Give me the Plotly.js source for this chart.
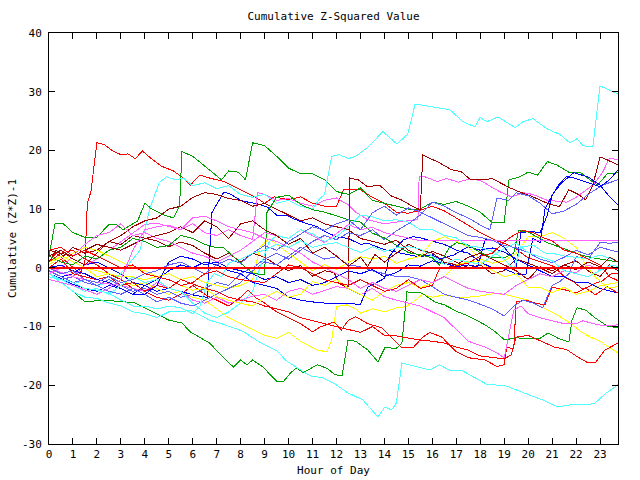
<!DOCTYPE html>
<html>
<head>
<meta charset="utf-8">
<script src="https://cdn.plot.ly/plotly-3.0.1.min.js"></script>
<style>html,body{margin:0;padding:0;background:#fff}#chart{width:640px;height:480px}
.scatterlayer path.js-line{shape-rendering:crispEdges}</style>
</head>
<body>
<div id="chart"></div>
<script>
// Each series: [hour, cumulative value] points
const hourTicks = [0,1,2,3,4,5,6,7,8,9,10,11,12,13,14,15,16,17,18,19,20,21,22,23];
const valueTicks = [-30,-20,-10,0,10,20,30,40];

const R1 = [[0,1],[0.3,2.5],[0.6,1.5],[1,0],[1.3,-1],[1.5,1],[1.6,11],[1.75,13],[2,21.3],[2.3,21],[2.7,19.8],[3,19.3],[3.3,19.4],[3.6,18.6],[3.9,19.9],[4.3,18.5],[4.7,17.3],[5.2,16.5],[5.6,15.3],[5.9,14.1],[6.3,15.8],[6.7,15.3],[7.3,14.7],[8,13.3],[8.6,12.1],[9,11],[9.4,12.1],[10,11.6],[10.5,12.1],[11,11],[11.5,10.5],[12,10.5],[12.3,13.3],[13,13.3],[13.5,12],[14,11],[14.5,9.5],[15,9.3],[15.5,9.8],[16,10.5],[16.5,9.7],[17,8.5],[17.5,7.2],[18,6],[18.7,4.6],[19,4.2],[19.5,3.2],[20,1.7],[20.6,0.9],[21.1,0.2],[21.5,-1.5],[21.9,-2.4],[22.3,-3.7],[22.7,-2.8],[23.1,-2.2],[23.5,-0.9],[23.75,-0.9]];
const G1 = [[0,2],[0.25,7.5],[0.6,7.5],[1,6],[1.5,5.2],[2,5.2],[2.5,7.4],[2.8,7.4],[3.1,6.5],[3.7,8],[4,11],[4.3,10],[4.8,9],[5.2,8.5],[5.45,10.5],[5.55,19.8],[6,19],[6.5,17.3],[7.2,15],[7.5,16.5],[7.9,16.3],[8.2,15],[8.5,21.3],[9,20.8],[9.5,19],[10,17],[10.5,16],[11,16],[11.5,15],[12,13],[12.5,12.5],[13,13.6],[13.5,11.5],[14,11],[14.5,10.5],[15,10],[15.5,10],[16,11.2],[16.5,10.8],[17,11.3],[17.5,10.5],[18,9.5],[18.5,7.7],[19,7.8],[19.2,15],[19.6,15.4],[20,16.3],[20.4,15.8],[20.8,18.1],[21.2,17.5],[21.7,16.3],[22.2,16.2],[22.6,14.9],[22.9,14.1],[23.3,16],[23.75,16.2]];
const C1 = [[0,-1],[0.5,-2],[1,-2.8],[1.5,-2],[2,-3],[2.5,-2.5],[3,-1],[3.5,1.5],[3.8,3],[4.2,10],[4.6,14.5],[4.9,15.5],[5.3,15],[5.6,15.3],[6,14],[6.5,14.5],[7,13.5],[7.5,14],[8,12.5],[8.5,12],[9,12.5],[9.5,11],[10,11.5],[10.5,10.5],[11,10],[11.3,11.8],[11.5,12.5],[11.8,19],[12.1,19.3],[12.5,18.6],[12.8,19],[13.27,20.4],[13.94,23.2],[14.52,21.1],[14.98,22.8],[15.28,27.9],[16.03,27.4],[16.74,26.9],[17.28,24.9],[17.78,24.0],[17.99,25.6],[18.28,24.9],[18.74,25.7],[19.45,23.9],[19.78,24.9],[20.2,25.4],[20.78,23.7],[21.33,22.7],[21.74,21.3],[22.04,22.0],[22.29,20.8],[22.7,20.6],[23.0,31.0],[23.75,29.6]];
const D1 = [[0,1],[0.3,3],[0.6,2],[1,3.5],[1.5,2.5],[2,3],[2.5,4.5],[3,4],[3.5,5.5],[4,5],[4.5,4.6],[5,3.6],[5.5,4.4],[6,3.8],[6.5,2.5],[7,1.5],[7.5,2.5],[8,1],[8.5,2.5],[9,1.8],[9.5,0.5],[10,-0.5],[10.5,0.4],[11,-1.4],[11.5,-0.5],[11.9,-0.8],[12.1,-2.6],[12.35,-3.2],[12.5,-3.2],[12.55,15.3],[12.9,15],[13.3,13.8],[13.8,14.1],[14.3,12.2],[14.7,11.6],[15.2,10.4],[15.5,9.9],[15.6,19.2],[15.9,18.7],[16.3,17.9],[16.8,16.7],[17.2,16.4],[17.6,15],[18.1,15],[18.5,15.2],[18.8,14.5],[19.2,13.7],[19.6,13],[20.2,12.1],[20.8,11],[21.3,10.4],[21.7,13.3],[22.1,12.5],[22.4,11.6],[22.7,14.1],[23.0,18.9],[23.3,18.4],[23.75,17.5]];
const M1 = [[0,-1],[0.5,-2],[1,-1.5],[1.5,0.5],[2,1.5],[2.5,3],[3,4.5],[3.5,6],[4,7.4],[4.5,7.6],[5,7],[5.5,6.5],[6,7.5],[6.5,6],[7,5.5],[7.5,6.5],[8,5.5],[8.5,4.8],[8.7,12.8],[9,12.5],[9.5,11.5],[10,11.8],[10.5,11],[11,10.5],[11.5,11.5],[12,11.9],[12.5,10.7],[12.8,9.5],[13.3,8.2],[14,7.5],[14.7,7.9],[15.2,8.2],[15.4,8.2],[15.45,15.5],[15.7,15.5],[16.2,14.7],[16.6,15.2],[17.1,14.6],[17.5,15.1],[18,14.9],[18.8,13],[19.3,12.1],[19.8,12.8],[20.2,12.5],[20.8,11.5],[21.6,11.2],[22,12],[22.7,14.1],[23.1,16.2],[23.4,18.7],[23.75,18.4]];
const B1 = [[0,-0.5],[0.5,-1.5],[1,-1],[1.5,0.5],[2,1],[2.5,0],[3,-1],[3.5,-2.5],[4,-3],[4.5,-4],[5,-3.5],[5.5,-4],[6,-4.6],[6.4,-4.9],[6.6,-5],[6.8,9.4],[7.1,11.6],[7.3,12.9],[7.6,12.5],[8,11.5],[8.3,11.2],[8.6,11],[9.1,10.4],[9.5,9],[9.9,9],[10.3,8.2],[10.8,7.5],[11.2,7],[11.6,6],[12,5.3],[12.5,5],[13,4],[13.3,4.2],[13.7,3.6],[14,3.1],[14.7,2.5],[15.4,1.9],[16,2.2],[16.3,1.5],[16.9,2.2],[17.5,3.6],[18,3],[18.5,3.4],[19,2.7],[19.5,1.5],[20,0.5],[20.5,-0.5],[21,-1.5],[21.5,-1.5],[22,-2.5],[22.5,-2.5],[23,-3.5],[23.75,-4.3]];
const Y1 = [[0,1],[0.5,2],[1,1],[1.5,0],[2,-1.5],[2.5,-1],[3,-2],[3.5,-3],[4,-2.5],[4.5,-3.5],[5,-4.5],[5.5,-4],[6,-5],[6.5,-5.5],[7,-7],[7.5,-8.5],[8,-9.5],[8.5,-10.5],[9,-11.5],[9.5,-12],[10,-11],[10.5,-12.5],[11,-13.5],[11.2,-14],[11.6,-14.3],[11.8,-12.3],[12,-6.6],[12.4,-6.3],[12.8,-7],[13,-7.7],[13.5,-7],[14,-7.5],[14.5,-6.8],[14.9,-6.6],[15.2,-5.8],[15.6,-4.5],[16,-5],[16.5,-4.6],[17,-5],[17.5,-5],[18,-4.8],[18.5,-4.4],[19,-4.5],[19.5,-5],[20,-5.5],[20.5,-6.5],[21,-7.5],[21.4,-8.5],[21.8,-9.5],[22.2,-10.9],[22.6,-11.8],[23,-12.5],[23.4,-13.5],[23.75,-14.5]];
const S1 = [[0,-1],[0.5,-2],[1,-1.5],[1.5,-2.5],[2,-3],[2.5,-2],[3,-3],[3.5,-4],[4,-3.5],[4.5,-4.5],[5,-4],[5.5,-5],[6,-4.5],[6.5,-3.5],[7,-2.5],[7.5,-3],[8,-1],[8.5,0],[9,1.5],[9.5,2.5],[10,1.5],[10.5,3],[11,4.5],[11.5,5.5],[12,4.8],[12.5,6],[13,5.5],[13.5,6.5],[14,4.8],[14.5,6.3],[15,7.5],[15.5,9],[16,11.2],[16.5,10.5],[17,9.4],[17.5,8.5],[18,7.3],[18.4,6.5],[18.7,11.9],[19.2,11.5],[19.5,12.8],[20,12.3],[20.5,11],[21,9.2],[21.5,9.7],[22,10.8],[22.5,12.5],[23.1,14.1],[23.75,15]];
const R2 = [[0,1],[0.5,2.5],[1,3],[1.5,1.5],[2,0.5],[2.5,-1],[3,-2],[3.5,-3.5],[4,-4],[4.5,-5],[5,-5.5],[5.5,-4.5],[6,-3],[6.5,-4.5],[7,-5.5],[7.5,-6.5],[8,-5],[8.3,-3.8],[8.6,-5],[9,-6],[9.5,-7.5],[10,-8.5],[10.5,-9.5],[11,-10.9],[11.3,-10.1],[11.9,-9.2],[12.2,-10.6],[12.5,-8.9],[12.8,-8.3],[13.3,-9.5],[13.9,-10.2],[14.7,-13.5],[15.2,-13.6],[15.6,-11.8],[15.9,-11],[16.4,-11.8],[17,-14.3],[17.5,-15.3],[18.2,-15.7],[18.7,-16.8],[19,-16.5],[19.1,-13.5],[19.4,-13.8],[19.5,-5.8],[19.9,-5.5],[20.3,-6],[20.7,-6.3],[21,-3.3],[21.5,-3.7],[22,-4.3],[22.4,-3.4],[22.8,-4.6],[23.3,-3.2],[23.75,-4.3]];
const G2 = [[0,-1],[0.5,-2.5],[1,-4],[1.5,-5.8],[2,-5.6],[2.5,-5.6],[3,-5.7],[3.6,-6],[4,-6.8],[4.55,-8],[5,-8.9],[5.55,-9.4],[5.9,-10.9],[6.7,-12.8],[7.26,-15.2],[7.7,-16.9],[8,-15.7],[8.26,-16.5],[8.5,-15.7],[8.93,-16.9],[9.5,-19.3],[9.8,-19.3],[10.1,-17.8],[10.35,-17],[10.6,-17.9],[11.2,-16.5],[11.6,-17.1],[11.94,-18.2],[12.23,-18.4],[12.48,-12.3],[12.8,-12.5],[13.31,-14],[13.73,-16],[14.02,-13.6],[14.5,-13.7],[14.73,-12.8],[14.94,-4.1],[15.57,-4.3],[16.1,-5.8],[16.5,-6.3],[17.07,-7.5],[17.5,-8.2],[18.2,-9.7],[18.6,-10.8],[19.03,-12.3],[19.45,-11.9],[20.1,-12.1],[20.5,-12],[20.83,-11.1],[21.3,-12.1],[21.7,-12.6],[21.83,-8.9],[22.04,-6.8],[22.4,-7.2],[22.79,-8.5],[23.3,-9.9],[23.75,-10.2]];
const C2 = [[0,-1],[0.5,-2.5],[1,-4],[1.5,-5],[2,-5.2],[2.5,-6],[3,-6.5],[3.5,-7.5],[4,-7.8],[4.5,-8.5],[5,-7.5],[5.5,-7.5],[5.9,-7.2],[6.3,-8],[6.7,-8.9],[7.2,-9.5],[7.7,-10.2],[8.1,-10.8],[8.5,-11.9],[8.9,-12.9],[9.5,-14.1],[9.9,-15.8],[10.35,-17],[10.9,-18.4],[11.4,-18.7],[11.94,-19.8],[12.48,-21.3],[13.1,-22.5],[13.73,-25.4],[14.02,-23.7],[14.3,-24.2],[14.5,-23],[14.73,-16.2],[15.4,-16.9],[15.9,-17.4],[16.3,-16.5],[16.7,-17.4],[17.2,-17.4],[17.78,-18.7],[18.3,-19.9],[19.0,-20],[19.87,-21.3],[20.6,-22.5],[21.24,-23.7],[21.9,-23.2],[22.5,-23.3],[22.8,-23],[23.2,-21.5],[23.75,-19.9]];
const D2 = [[0,2],[0.5,3],[1,1.5],[1.5,0.5],[2,2.5],[2.5,4.5],[3,5.5],[3.5,7],[4,8],[4.5,8.5],[5,10],[5.5,10.5],[6,12],[6.5,12.8],[7,12.5],[7.5,11.8],[8,11.5],[8.5,10.5],[9,11],[9.5,10],[10,9],[10.5,8],[11,8.5],[11.5,7.5],[12,7],[12.5,6.5],[13,5],[13.5,4.5],[14,4],[14.5,4.7],[15,3],[15.5,2],[16,2.8],[16.5,2],[17,1],[17.5,0],[18,0.5],[18.5,-1],[19,-0.5],[19.5,1.5],[20,0.8],[20.5,0],[21,-1],[21.5,0.5],[22,1.2],[22.5,-0.5],[23,-1.5],[23.4,0.5],[23.75,-0.5]];
const M2 = [[0,0],[1,-1.5],[2,-2.5],[3,-3],[4,-4],[4.5,-2.5],[5,-3.5],[5.5,-4],[6,-5.5],[6.5,-6],[7,-5],[7.5,-6],[8,-5.5],[8.5,-4.8],[9,-4.5],[9.5,-5.5],[10,-4],[10.5,-3.5],[11,-4.5],[11.5,-3.8],[12,-3.2],[12.5,-3.5],[13,-4.6],[13.5,-3.5],[14,-4.9],[14.5,-5.5],[15,-6],[15.5,-6.5],[16,-7.5],[16.5,-8.5],[17,-10.5],[17.5,-12.5],[18.2,-13.5],[18.7,-14.5],[19,-15.3],[19.2,-11],[19.4,-7.2],[19.7,-6.5],[20,-7.8],[20.5,-8.5],[21,-9],[21.5,-9.5],[22,-9.5],[22.3,-9],[22.7,-9.5],[23.2,-9.9],[23.75,-9.7]];
const C3 = [[0,-1.5],[0.5,-2],[1,-3],[1.5,-4],[2,-3.5],[2.5,-4.5],[3,-3],[3.5,-1.5],[4,-2.5],[4.5,-2],[5,-3.5],[5.5,-4],[6,-6],[6.5,-7.7],[7,-8.5],[7.5,-7.5],[8,-6],[8.5,-4],[8.8,0],[9.2,4.5],[9.5,5.5],[10,5],[10.5,6.5],[11,5.8],[11.5,4.5],[12,5.3],[12.5,7],[13,9],[13.5,8.7],[14,8],[14.5,8.2],[15,7.8],[15.5,6.5],[16,6.5],[16.5,5.5],[17,5.1],[17.5,3.7],[18,3.5],[18.5,2.8],[19,1.5],[19.4,-0.3],[19.7,3.5],[20.2,3.9],[20.7,2.5],[21,2.5],[21.5,2],[22,1.8],[22.5,1.5],[23,2.2],[23.5,1.5],[23.75,1]];
const Y2 = [[0,2],[0.5,1],[1,2.5],[1.5,3.5],[2,3],[2.5,2],[3,1],[3.5,0],[4,-0.5],[4.5,-1.5],[5,-1],[5.5,-2],[6,-1.5],[6.5,-2.5],[7,-3],[7.5,-3.5],[8,-3],[8.5,-2],[8.8,3.5],[9.2,5],[9.5,4],[10,2.5],[10.5,1],[11,-0.5],[11.5,0.5],[12,-0.3],[12.5,1],[13,1.9],[13.5,1.5],[14,2],[14.5,0.8],[15,1.5],[15.5,2],[16,4.5],[16.5,5.3],[17,4.5],[17.5,3.5],[18,1.5],[18.5,0.8],[19,1.2],[19.5,2.5],[20,5.3],[20.5,5.3],[21,6],[21.5,5],[22,3.5],[22.4,0.5],[22.8,-1.5],[23.3,-3.4],[23.75,-3.2]];
const B2 = [[0,-1],[0.5,-1.8],[1,-2.8],[1.5,-3.5],[2,-4],[2.5,-3],[3,-3.5],[3.5,-4.5],[4,-3],[4.5,-2],[5,-0.5],[5.5,0.5],[6,0],[6.5,1],[7,0.5],[7.5,-0.5],[8,-1],[8.5,-2.5],[9,-3],[9.5,-3.5],[10,-5],[10.5,-5.5],[11,-5.8],[11.5,-6],[12,-6],[12.5,-6.1],[13,-6.2],[13.3,-3.3],[13.7,-2.5],[14,-1.8],[14.2,1.9],[14.5,3.5],[14.8,4.8],[15.2,5.3],[15.5,5.1],[16,4.5],[16.5,4],[17,3],[17.5,2.5],[18,1],[18.5,0],[19,-0.2],[19.5,-1],[19.9,-1.2],[20.2,5],[20.5,4.3],[20.7,10],[21,12.3],[21.3,14.3],[21.6,15.6],[22,15.2],[22.5,14.5],[23,13.8],[23.4,15],[23.75,16.7]];
const S2 = [[0,-0.5],[0.5,-1.5],[1,-2.5],[1.5,-2],[2,-3],[2.5,-4],[3,-4.5],[3.5,-3.5],[4,-4.5],[4.5,-5.8],[5,-5],[5.5,-6],[6,-6.5],[6.5,-5.5],[7,-4.5],[7.5,-3.5],[8,-2.5],[8.5,-0.5],[9,1],[9.5,0.5],[10,2],[10.5,3.5],[11,2.5],[11.5,1.5],[12,1.9],[12.5,0.5],[13,0.2],[13.5,-0.5],[14,-1],[14.5,-1.5],[15,-1.5],[15.5,-2],[16,-3.2],[16.5,-4.5],[17,-5],[17.5,-5.5],[18,-6.2],[18.5,-7],[19,-8.2],[19.4,-6.5],[19.8,-5.5],[20.2,-6],[20.6,-6.8],[21,-3],[21.3,-2.4],[21.7,-1],[22,1.9],[22.5,1.5],[23,4.3],[23.4,4.2],[23.75,4.3]];
const R3 = [[0,0],[0.5,1.5],[1,-1],[1.5,-1.5],[2,-2],[2.5,-1.5],[3,-3],[3.5,-2.5],[4,-4],[4.5,-3],[5,-3.5],[5.5,-2],[6,-2.8],[6.5,-3.5],[7,-4],[7.5,-5],[8,-5.5],[8.5,-5.8],[9,-6.5],[9.5,-7],[10,-7.5],[10.5,-8.5],[11,-9],[11.5,-9.5],[12,-10],[12.5,-10.5],[13,-11],[13.5,-10],[14,-11.5],[14.5,-11.6],[15,-12],[15.5,-12.3],[16,-12.5],[16.5,-12.8],[17,-13.5],[17.5,-14],[18,-15],[18.5,-15.2],[19,-15.5],[19.3,-14.8],[19.5,-11.8],[20,-11.5],[20.5,-12.4],[21.1,-13.5],[21.6,-13.9],[22,-15],[22.5,-16.2],[22.8,-16.2],[23.2,-14],[23.75,-12.8]];
const G3 = [[0,2],[0.5,1],[1,0.5],[1.5,2],[2,1.5],[2.5,3],[3,3.5],[3.5,5],[4,4.5],[4.5,3.5],[5,3.8],[5.5,5.5],[6,5],[6.5,4],[7,3.4],[7.3,3.4],[8,0.8],[8.5,-0.9],[9,-1.2],[9.1,9.5],[9.5,12],[10,12.4],[10.5,10.8],[11,9.9],[11.5,9.5],[12,8.8],[12.5,8.2],[13,7.8],[13.5,5.9],[14,5.1],[14.5,3.9],[15,2.6],[15.5,2.2],[16,1.7],[16.3,0.5],[16.7,3.4],[17,4.3],[17.5,3.9],[18,2.6],[18.5,1.7],[19,1.7],[19.4,2.5],[19.6,6.4],[20,6.1],[20.8,4.3],[21.5,3.2],[22.2,2.2],[22.7,1.7],[23.75,1.0]];
const M3 = [[0,-1],[0.5,0],[1,2],[1.5,4],[2,5.5],[2.5,6],[3,7.5],[3.5,5.5],[4,6],[4.5,5],[5,4.5],[5.5,3.5],[6,2.5],[6.5,2],[7,1],[7.5,2],[8,3],[8.5,4.5],[9,6],[9.5,5.5],[10,5],[10.5,6.5],[11,5.5],[11.5,4.3],[12,5.8],[12.5,7.4],[13,6.5],[13.5,6.9],[14,6],[14.5,5.5],[15,5],[15.4,4.7],[23.75,4.7]];
const C4 = [[0,-1],[0.5,-2],[1,-2.5],[1.5,-3.5],[2,-3.8],[2.5,-4.3],[3,-5.5],[3.5,-6.5],[4,-6.5],[4.5,-7],[5,-6.5],[5.5,-6.8],[6,-7.8],[6.3,-6.5],[6.6,-2.5],[6.9,-1],[7.2,-1.5],[7.5,0.8],[8,1.5],[8.5,2.5],[9,3],[9.5,4],[10,3.5],[10.5,4.6],[11,3.5],[11.5,4],[12,4.3],[12.5,3.5],[13,2.6],[13.5,3.6],[14,2.8],[14.5,3.4],[15,3.6],[15.5,3.2],[16,2],[16.5,0.6],[17,1.5],[17.5,1],[18,0.6],[18.5,2],[19,3.3],[19.5,4.2],[20,2.6],[20.5,1.9],[21,1.2],[21.5,-0.5],[22,-1],[22.5,-1.5],[23,-0.4],[23.5,0.5],[23.75,0.2]];
const Y3 = [[0,0.5],[0.5,2],[1,1],[1.5,0],[2,-0.5],[2.5,-1],[3,-1.5],[3.5,-1.5],[4,-2],[4.5,-1.5],[5,-2],[5.5,-3],[6,-3.8],[6.5,-3.5],[7,-4.9],[7.5,-5.5],[8,-6],[8.5,-6.5],[9,-5],[9.5,-4],[10,-5],[10.5,-4.5],[11,-2.3],[11.5,-3],[12,-2],[12.5,-3.5],[13,-4.5],[13.5,-5.5],[14,-4],[14.5,-3],[15,-2.5],[15.5,-3.4],[16,-2.5],[16.5,-1.5],[17,0.5],[17.5,1],[18,1],[18.5,-0.5],[19,-1.5],[19.5,-1],[20,-3.3],[20.5,-3.3],[21,-4.3],[21.5,-3.3],[22,-4.5],[22.5,-4],[23,-3],[23.75,-2.5]];
const B3 = [[0,0],[0.5,0.5],[1,-0.5],[1.5,-1],[2,-2],[2.5,-2.5],[3,-3.5],[3.5,-4.5],[4,-4.5],[4.5,-3],[5,1],[5.5,2],[6,1.5],[6.5,0.5],[7,1],[7.5,0],[8,-0.5],[8.5,-1],[9,-2],[9.5,-1.5],[10,-2.5],[10.5,-2],[11,-3],[11.5,-2.5],[12,-1.5],[12.5,-0.5],[13,-1],[13.5,-0.3],[14,-1.5],[14.5,-0.8],[15,0.5],[15.5,0.3],[16,1.2],[16.5,0.8],[17,0.2],[17.5,0.5],[17.9,0.2],[18.2,4.8],[18.6,4.6],[19,3.5],[19.4,1.5],[19.5,0.2],[19.7,6],[20.1,6.2],[20.5,6],[20.8,9],[21,12.4],[21.4,14.5],[21.9,16.2],[22.5,15.5],[23,14.1],[23.4,12.1],[23.75,10.7]];
const S3 = [[0,0],[0.5,-1],[1,-0.5],[1.5,-2],[2,-2.5],[2.5,-1.5],[3,-2.5],[3.5,-2],[4,-1],[4.5,-0.5],[5,0.5],[5.5,1],[6,0],[6.5,-1],[7,0.5],[7.5,1.5],[8,0.8],[8.5,2.5],[9,3.8],[9.5,3],[10,4.5],[10.5,5.8],[11,7],[11.5,6.4],[12,7.5],[12.5,8.2],[13,6.5],[13.5,9.4],[14,10.5],[14.5,9],[15,10.2],[15.5,9.5],[16,8.5],[16.5,7.4],[17,6.5],[17.5,5.5],[18,5.2],[18.5,4.7],[19,3.8],[19.5,3.4],[20,2.6],[20.5,1.5],[21,0.9],[21.5,1.8],[22,3],[22.5,2.2],[23,3.5],[23.75,2.7]];
const R4 = [[0,3],[0.5,3.5],[1,2],[1.5,3],[2,2],[2.5,1],[3,0],[3.5,0.5],[4,-1],[4.5,-1.5],[5,-2],[5.5,-3],[6,-2.5],[6.5,-1],[7,-0.5],[7.5,-1.5],[8,-2],[9,-2.5],[9.5,-1],[10,0.5],[10.5,0],[11,-1],[11.5,-2],[12,-2.5],[12.5,-3],[13,-2],[13.5,-3],[14,-4],[14.5,-3.5],[15,-2],[15.5,-3.5],[16,-3],[16.3,-0.1],[16.8,0.2],[17.5,0.8],[18,2],[18.5,2.5],[19,4.4],[19.4,5.6],[19.8,6.4],[20.2,6],[20.6,5.2],[21,4.6],[21.5,3],[22,2.5],[22.5,1.5],[23,0.5],[23.4,-1.5],[23.75,-2.2]];
const D3 = [[0,3],[1,2],[2,4],[3,3],[4,5],[5,6],[5.5,7],[6,6],[6.5,8],[7,7],[7.5,5],[8,7.5],[8.5,8],[9,6.5],[9.5,5.5],[10,4],[10.5,5],[11,2.5],[11.5,3.5],[12,2],[12.5,0.3],[13,1.8],[13.3,0.2],[13.6,2.3],[14,1],[14.5,2.5],[15,4],[15.5,3],[16,2.5],[16.5,1],[17,0.5],[17.5,1.8],[18,2.5],[18.5,1.5],[19,0.5],[19.5,-0.5],[20,-2],[20.5,0.2],[21,-0.5],[21.5,0.5],[22,-0.3],[22.5,1],[23,0.2],[23.4,1.8],[23.75,1]];
const M4 = [[0,-2],[1,-3],[2,-4.5],[2.5,-3.5],[3,-2],[3.5,3],[4,6.5],[4.5,7],[5,7.3],[5.5,6.5],[6,8.5],[6.5,8.8],[7,8],[7.5,7],[8,6.5],[8.5,6],[9,5],[9.5,4.5],[10,3.5],[10.5,2.5],[11,1],[11.5,0],[12,-1],[12.5,-2],[13,-3.5],[13.5,-2.5],[14,-3.5],[14.5,-4],[15,-3],[15.5,-2],[16,-2.5],[16.5,-1.5],[17,-2.5],[17.5,-3.5],[18,-4],[19,-4.5],[19.5,-3],[20,-2],[20.5,-1],[21,-1.5],[21.5,-0.5],[22,-0.8],[22.5,0.5],[23,-0.3],[23.75,0.2]];
const ZERO = [[0,0],[23.75,0]];

const red = '#ff0000', green = '#00a000', blue = '#0000ff', magenta = '#ff60ff',
      cyan = '#50ffff', darkred = '#a00000', yellow = '#ffff00', slate = '#6060ff';

const series = [
  [R1, red], [G1, green], [B1, blue], [M1, magenta], [C1, cyan], [D1, darkred], [Y1, yellow], [S1, slate],
  [R2, red], [G2, green], [B2, blue], [M2, magenta], [C2, cyan], [D2, darkred], [Y2, yellow], [S2, slate],
  [R3, red], [G3, green], [B3, blue], [M3, magenta], [C3, cyan], [D3, darkred], [Y3, yellow], [S3, slate],
  [R4, red], [M4, magenta], [C4, cyan]
];

const traces = series.map(([pts, col]) => ({
  type: 'scatter', mode: 'lines',
  x: pts.map(p => p[0]), y: pts.map(p => p[1]),
  line: {color: col, width: 1}, hoverinfo: 'skip', showlegend: false
}));
traces.push({type: 'scatter', mode: 'lines', x: ZERO.map(p => p[0]), y: ZERO.map(p => p[1]),
  line: {color: red, width: 2}, hoverinfo: 'skip', showlegend: false});

const font = {family: 'DejaVu Sans Mono, monospace', size: 11, color: '#000'};

const layout = {
  width: 640, height: 480,
  margin: {l: 49, r: 22, t: 33, b: 36, pad: 0},
  paper_bgcolor: '#fff', plot_bgcolor: '#fff',
  font: font,
  showlegend: false,
  title: {text: 'Cumulative Z-Squared Value', font: font, x: 0.5, xref: 'paper', y: 1 - 16/480, yref: 'container', yanchor: 'middle'},
  xaxis: {
    range: [0, 23.75], tickvals: hourTicks, ticktext: hourTicks.map(String),
    ticks: 'inside', ticklen: 6, tickcolor: '#000', mirror: 'ticks',
    showline: true, linecolor: '#000', linewidth: 1, showgrid: false, zeroline: false,
    tickfont: font, title: {text: 'Hour of Day', font: font, standoff: 6}
  },
  yaxis: {
    range: [-30, 40], tickvals: valueTicks, ticktext: valueTicks.map(String),
    ticks: 'inside', ticklen: 6, tickcolor: '#000', mirror: 'ticks',
    showline: true, linecolor: '#000', linewidth: 1, showgrid: false, zeroline: false,
    tickfont: font, ticklabelstandoff: 4, title: {text: 'Cumulative (Z*Z)-1', font: font, standoff: 3}
  }
};

Plotly.newPlot('chart', traces, layout, {staticPlot: true, displayModeBar: false});
</script>
</body>
</html>
